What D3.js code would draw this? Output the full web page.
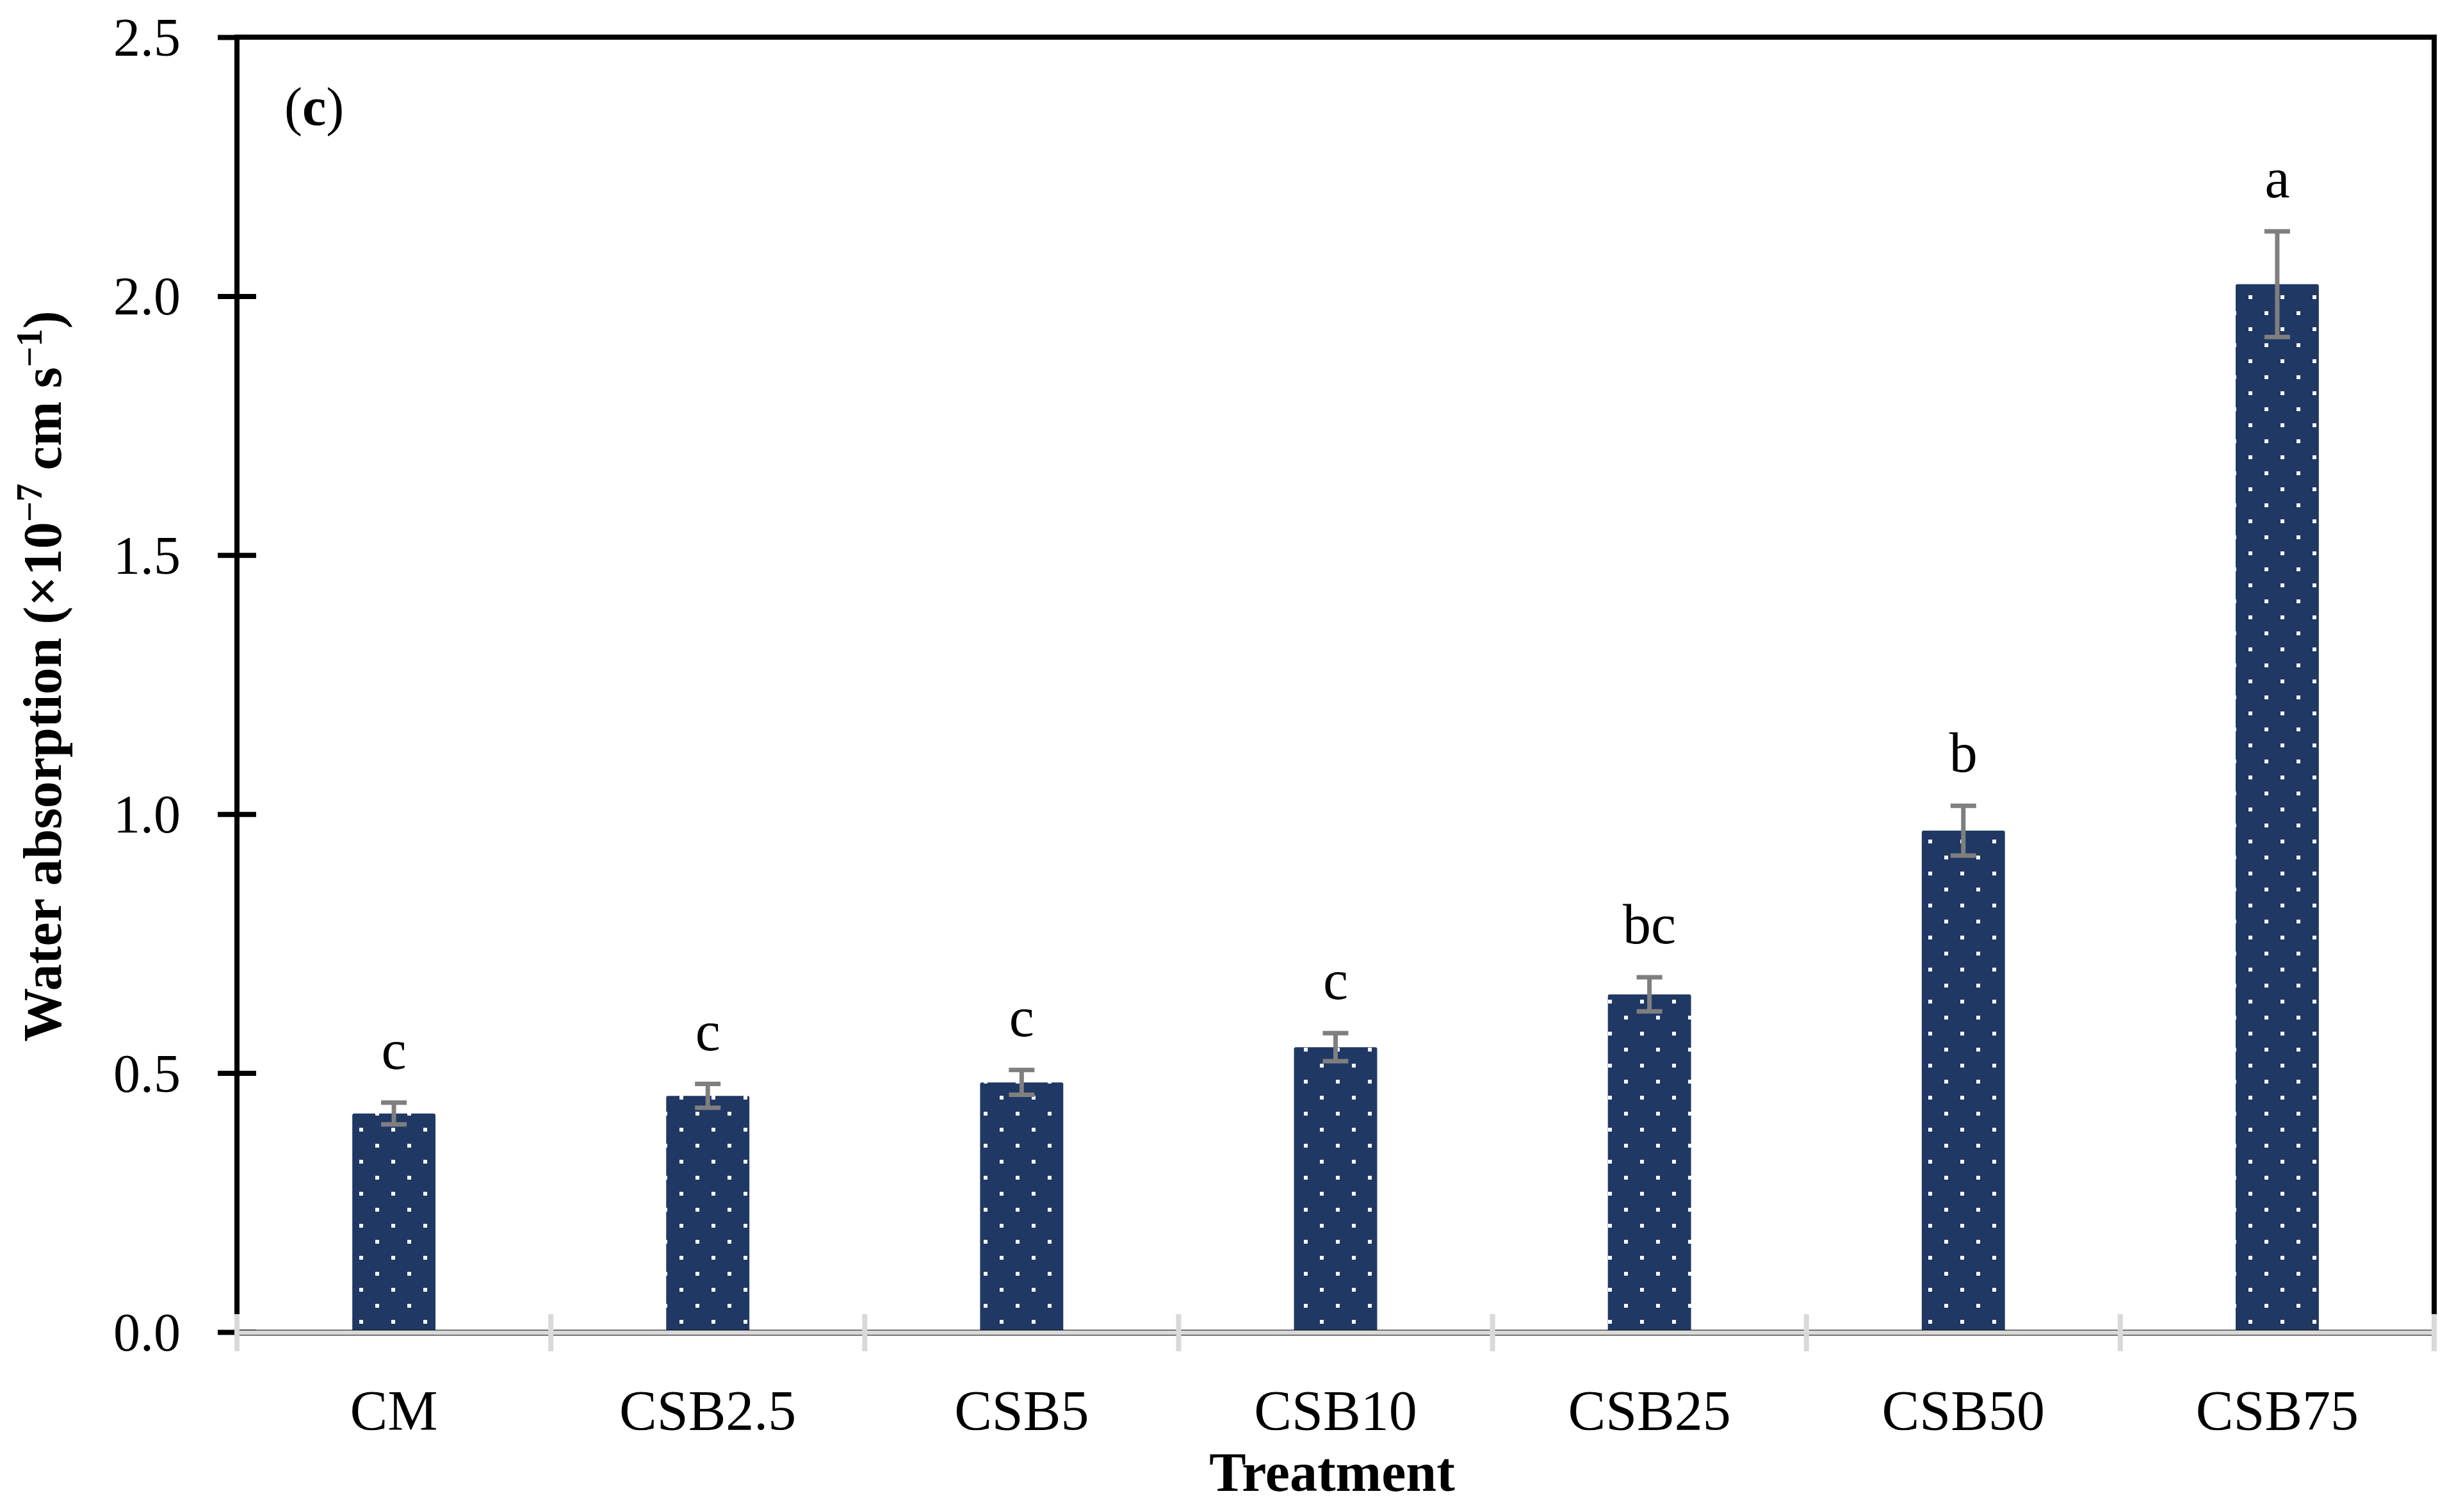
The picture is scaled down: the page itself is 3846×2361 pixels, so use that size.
<!DOCTYPE html>
<html>
<head>
<meta charset="utf-8">
<script src="https://cdn.jsdelivr.net/npm/d3@7"></script>
<style>
  body { margin: 0; background: #fff; }
  text { font-family: "Liberation Serif", "Times New Roman", serif; fill: #000; }
</style>
</head>
<body>
<svg id="chart" width="3846" height="2361"></svg>
<script>
// values
var treatments = ["CM", "CSB2.5", "CSB5", "CSB10", "CSB25", "CSB50", "CSB75"];
var means = [0.422, 0.456, 0.482, 0.550, 0.652, 0.968, 2.023];
var errors = [0.021, 0.023, 0.024, 0.027, 0.033, 0.048, 0.102];
var letters = ["c", "c", "c", "c", "bc", "b", "a"];
var yTicks = [0.0, 0.5, 1.0, 1.5, 2.0, 2.5];

var svg = d3.select("#chart");
var plotLeft = 370, plotRight = 3801, plotTop = 58, plotBottom = 2080;

var x = d3.scaleBand().domain(treatments).range([plotLeft, plotRight]).padding(0);
var y = d3.scaleLinear().domain([0, 2.5]).range([plotBottom, plotTop]);
var barW = x.bandwidth() * 0.265;

//dotted fill for the bars
var defs = svg.append("defs");
var pat = defs.append("pattern")
  .attr("id", "dots")
  .attr("patternUnits", "userSpaceOnUse")
  .attr("width", 50).attr("height", 50);
pat.append("rect").attr("width", 50).attr("height", 50).attr("fill", "#203864");
pat.append("rect").attr("x", 11).attr("y", 11).attr("width", 6).attr("height", 6).attr("fill", "#fff");
pat.append("rect").attr("x", 36).attr("y", 36).attr("width", 6).attr("height", 6).attr("fill", "#fff");

//frame: top and right
svg.append("path")
  .attr("d", "M" + plotLeft + "," + plotTop + "H" + plotRight + "V" + (plotBottom - 2))
  .attr("fill", "none").attr("stroke", "#000").attr("stroke-width", 8);

//bars
svg.selectAll("rect.bar")
  .data(treatments)
  .enter().append("rect")
  .attr("class", "bar")
  .attr("x", function(d) { return x(d) + (x.bandwidth() - barW) / 2; })
  .attr("y", function(d, i) { return y(means[i]); })
  .attr("width", barW)
  .attr("height", function(d, i) { return plotBottom - y(means[i]); })
  .attr("rx", 3)
  .attr("fill", "url(#dots)");

//error bars
var eb = svg.selectAll("g.err")
  .data(treatments)
  .enter().append("g")
  .attr("class", "err")
  .attr("stroke", "#7f7f7f")
  .attr("stroke-width", 7);
eb.append("line")
  .attr("x1", function(d) { return x(d) + x.bandwidth() / 2; })
  .attr("x2", function(d) { return x(d) + x.bandwidth() / 2; })
  .attr("y1", function(d, i) { return y(means[i] + errors[i]); })
  .attr("y2", function(d, i) { return y(means[i] - errors[i]); });
[1, -1].forEach(function(s) {
  eb.append("line")
    .attr("x1", function(d) { return x(d) + x.bandwidth() / 2 - 20; })
    .attr("x2", function(d) { return x(d) + x.bandwidth() / 2 + 20; })
    .attr("y1", function(d, i) { return y(means[i] + s * errors[i]); })
    .attr("y2", function(d, i) { return y(means[i] + s * errors[i]); });
});

//significance letters
svg.selectAll("text.letter")
  .data(treatments)
  .enter().append("text")
  .attr("class", "letter")
  .attr("x", function(d) { return x(d) + x.bandwidth() / 2; })
  .attr("y", function(d, i) { return y(means[i] + errors[i]) - 53; })
  .attr("text-anchor", "middle")
  .attr("font-size", 88)
  .text(function(d, i) { return letters[i]; });

//y axis
var yAxis = svg.append("g")
  .attr("transform", "translate(" + plotLeft + ",0)")
  .call(d3.axisLeft(y).tickValues(yTicks).tickFormat(d3.format(".1f")).tickSize(30).tickPadding(58));
yAxis.select(".domain").remove();
yAxis.selectAll(".tick line")
  .attr("x1", function(d) { return d === 2.5 ? 0 : 30; })
  .attr("stroke", "#000").attr("stroke-width", 8);
yAxis.selectAll(".tick text")
  .attr("font-size", 84)
  .attr("font-family", "Liberation Serif")
  .attr("dy", "0.34em");
svg.append("line")
  .attr("x1", plotLeft).attr("x2", plotLeft)
  .attr("y1", plotTop - 4).attr("y2", plotBottom)
  .attr("stroke", "#000").attr("stroke-width", 8);

//x axis: gray line with thin dark edges
svg.append("line")
  .attr("x1", plotLeft).attr("x2", plotRight)
  .attr("y1", plotBottom + 1).attr("y2", plotBottom + 1)
  .attr("stroke", "#000").attr("stroke-width", 9);
svg.append("line")
  .attr("x1", plotLeft).attr("x2", plotRight)
  .attr("y1", plotBottom + 1).attr("y2", plotBottom + 1)
  .attr("stroke", "#d9d9d9").attr("stroke-width", 7);

var bounds = treatments.map(function(d) { return x(d); }).concat([plotRight]);
svg.selectAll("line.xtick")
  .data(bounds)
  .enter().append("line")
  .attr("class", "xtick")
  .attr("x1", function(d) { return d; })
  .attr("x2", function(d) { return d; })
  .attr("y1", plotBottom - 28).attr("y2", plotBottom + 30)
  .attr("stroke", "#d9d9d9").attr("stroke-width", 8);

svg.selectAll("text.cat")
  .data(treatments)
  .enter().append("text")
  .attr("class", "cat")
  .attr("x", function(d) { return x(d) + x.bandwidth() / 2; })
  .attr("y", 2232)
  .attr("text-anchor", "middle")
  .attr("font-size", 88)
  .text(function(d) { return d; });

//axis titles
svg.append("text")
  .attr("x", 2080).attr("y", 2328)
  .attr("text-anchor", "middle")
  .attr("font-size", 86)
  .attr("font-weight", "bold")
  .text("Treatment");

var yt = svg.append("text")
  .attr("transform", "translate(95,1056) rotate(-90)")
  .attr("text-anchor", "middle")
  .attr("font-size", 84)
  .attr("font-weight", "bold");
yt.append("tspan").text("Water absorption (\u00d710");
yt.append("tspan").attr("dy", -30).attr("font-size", 56).text("\u22127");
yt.append("tspan").attr("dy", 30).text(" cm s");
yt.append("tspan").attr("dy", -30).attr("font-size", 56).text("\u22121");
yt.append("tspan").attr("dy", 30).text(")");

//panel label
var pl = svg.append("text")
  .attr("x", 444).attr("y", 195)
  .attr("font-size", 84);
pl.append("tspan").text("(");
pl.append("tspan").attr("font-weight", "bold").text("c");
pl.append("tspan").text(")");
</script>
</body>
</html>
